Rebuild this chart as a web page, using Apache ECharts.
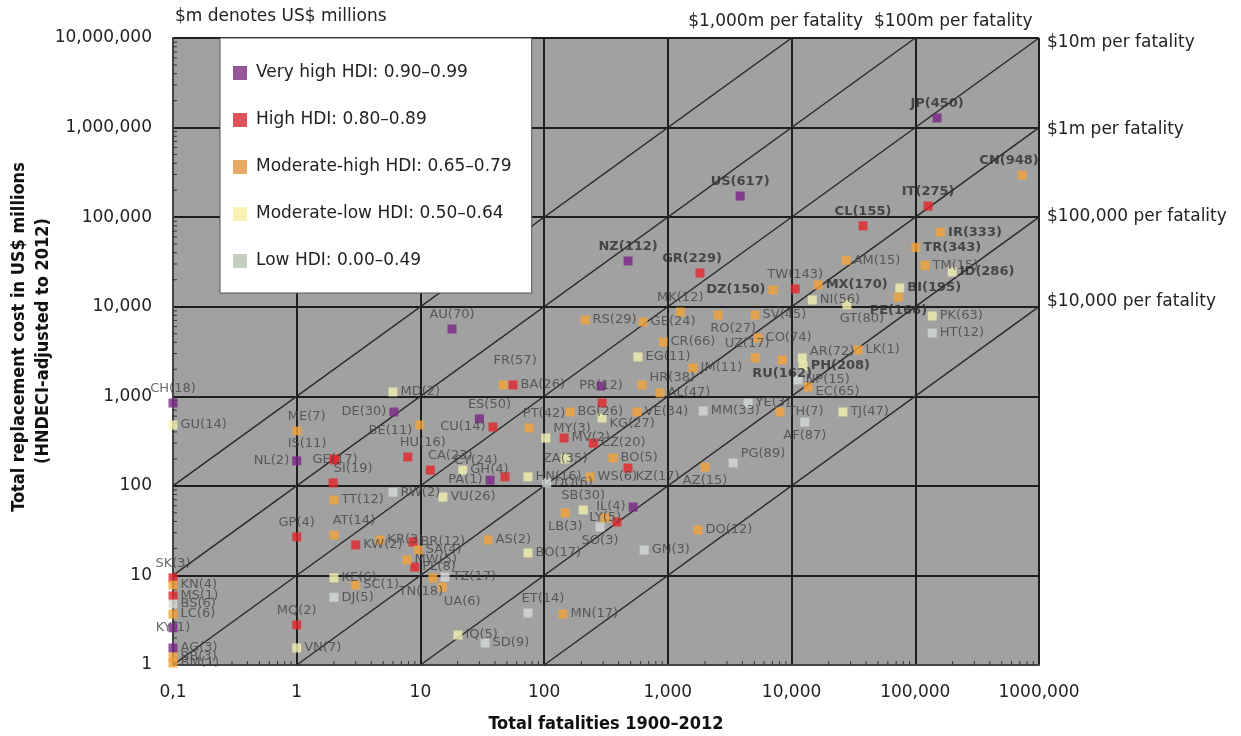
<!DOCTYPE html>
<html><head><meta charset="utf-8">
<script src="https://cdn.jsdelivr.net/npm/echarts@6/dist/echarts.min.js"></script>
<style>html,body{margin:0;background:#fff}#c{width:1241px;height:736px}</style>
</head><body><div id="c"></div>
<script>
// [label, total fatalities 1900-2012, total replacement cost US$ m]
const veryHigh = [
  ['JP(450)',150000,1280000],['US(617)',3840,172000],['NZ(112)',477,32400],['AU(70)',18,5640],
  ['CH(18)',0.1,841],['DE(30)',6.1,668],['NL(2)',1,190],['PA(1)',36.6,116],['IL(4)',524,58],
  ['KY(1)',0.1,2.6],['AG(3)',0.1,1.55],['ES(50)',30,560],['PR(12)',288,1300]
];
const high = [
  ['IT(275)',127000,133000],['CL(155)',37800,80000],['GR(229)',1820,23800],['TW(143)',10700,15800],
  ['BA(26)',56,1337],['CU(14)',38.6,454],['HU(16)',7.9,210],['GE(17)',2.04,194],['IS(11)',2,200],['SI(19)',1.97,108],
  ['GP(4)',1,26.9],['KW(2)',3,21.9],['MQ(2)',1,2.8],['MV(2)',145,342],['KZ(17)',476,158],
  ['CY(24)',48.3,126],['CA(23)',12,150],['LV(5)',388,39.5],['',294,841],['MS(1)',0.1,5.9],
  ['BR(12)',8.7,23.6],['PL(8)',9,12.4],['SK(3)',0.1,9.4],['CZ(20)',250,300]
];
const moderateHigh = [
  ['CN(948)',730000,295000],['IR(333)',160000,68000],['TR(343)',101000,46000],['AM(15)',27600,33000],
  ['TM(15)',120000,29000],['DZ(150)',7080,15400],['MX(170)',16400,17500],['PE(166)',73000,12800],
  ['SV(45)',5070,8080],['RO(27)',2550,8080],['MK(12)',1260,8730],['GE(24)',631,6760],['RS(29)',214,7110],
  ['CR(66)',914,4040],['CO(74)',5360,4480],['LK(1)',34500,3290],['UZ(17)',5070,2680],['JM(11)',1600,2070],
  ['RU(162)',8380,2540],['EC(65)',13600,1270],['TH(7)',8070,668],['VE(34)',564,668],['HR(38)',618,1337],
  ['AL(47)',865,1088],['FR(57)',46.6,1337],['PT(42)',75.5,443],['BG(26)',162,668],['ME(7)',1,410],
  ['BE(11)',9.9,478],['TT(12)',2,69.5],['AT(14)',2,28.3],['SC(1)',3,7.8],['BO(5)',360,205],
  ['AZ(15)',2000,162],['LB(3)',148,49.8],['LY(5)',311,43.8],['DO(12)',1750,32.2],['AS(2)',35.2,24.9],
  ['TN(18)',12.6,9.4],['UA(6)',15,7.4],['MN(17)',142,3.7],['KN(4)',0.1,7.8],['LC(6)',0.1,3.7],
  ['BB(3)',0.1,1.23],['BM(1)',0.1,1.05],['KR(3)',4.7,24.9],['SA(4)',9.6,19.2],['MW(5)',7.8,14.9],
  ['WS(6)',235,126]
];
const moderateLow = [
  ['ID(286)',199000,24400],['BI(195)',75000,16200],['NI(56)',14700,11900],['GT(80)',28000,10500],
  ['PK(63)',137000,7880],['EG(11)',574,2750],['AR(72)',12200,2680],['PH(208)',12400,2180],
  ['TJ(47)',26000,668],['KG(27)',294,572],['MY(3)',103,342],['HN(16)',74,126],['SB(30)',207,53.8],
  ['BO(17)',74,17.8],['IQ(5)',20.1,2.16],['VU(26)',15.2,75],['GH(4)',22,150],['MD(2)',6,1117],
  ['GU(14)',0.1,478],['KE(6)',2,9.4],['VN(7)',1,1.55],['ZA(35)',148,200]
];
const low = [
  ['HT(12)',137000,5090],['NP(15)',11300,1520],['AF(87)',12800,516],['MM(33)',1930,685],
  ['PG(89)',3370,180],['YE(3)',4450,841],['DO(6)',105,108],['SO(3)',283,34.7],['GN(3)',643,19.2],
  ['TZ(17)',15.8,9.6],['ET(14)',74,3.8],['SD(9)',33.3,1.76],['RW(2)',6,85],['DJ(5)',2,5.7],['BS(6)',0.1,4.8]
];
const groupNames = ['Very high HDI: 0.90–0.99','High HDI: 0.80–0.89','Moderate-high HDI: 0.65–0.79','Moderate-low HDI: 0.50–0.64','Low HDI: 0.00–0.49'];
// cost per fatality in US$ m (iso lines)
const ratios = [1000,100,10,1,0.1,0.01];
const ratioLabels = ['$1,000m per fatality','$100m per fatality','$10m per fatality','$1m per fatality','$100,000 per fatality','$10,000 per fatality'];
const xTickLabels = ['0,1','1','10','100','1,000','10,000','100,000','1000,000'];
const yTickLabels = ['1','10','100','1,000','10,000','100,000','1,000,000','10,000,000'];
const minorMultipliers = [2,3,4,5,6,7,8,9];
const X_MIN = 0.1, X_MAX = 1e6, Y_MIN = 1, Y_MAX = 1e7;

// ---- styling (not data) ----
const markerColors = ['#7b2687','#e4252b','#f2a33a','#f3f1ae','#d6dbd6'];
const legendColors = ['#7b2c80','#d6282e','#de9540','#f6f0a2','#b6c3b2'];
const ratioLabelOffsets = [[-16,0],[38,0],[0,5],[0,2],[0,-1],[0,-5]];
// label placement: [position, dx, dy]
const labelPos = {
  'JP(450)':['top'],'CN(948)':['top',-13,0],'US(617)':['top'],'IT(275)':['top'],'CL(155)':['top'],'NZ(112)':['top'],
  'GR(229)':['top',-8,0],'TW(143)':['top'],'MK(12)':['top'],'HR(38)':['right',0,-7],'FR(57)':['top',12,-10],
  'AT(14)':['top',20,0],'GP(4)':['top'],'MQ(2)':['top'],'ME(7)':['top',10,0],'AU(70)':['top'],'CH(18)':['top'],
  'PT(42)':['top',15,0],'ES(50)':['top',10,0],'IS(11)':['left',0,-15],'SK(3)':['top'],'SI(19)':['top',20,0],
  'HU(16)':['top',15,0],'CA(23)':['top',20,0],'SB(30)':['top'],'ET(14)':['top',15,0],'UZ(17)':['top',-8,0],
  'DZ(150)':['left'],'CU(14)':['left'],'BE(11)':['left',0,6],'NL(2)':['left'],'CY(24)':['left',0,-16],
  'PA(1)':['left'],'DE(30)':['left'],'IL(4)':['left'],
  'GT(80)':['bottom',15,0],'RU(162)':['bottom'],'AF(87)':['bottom'],'LB(3)':['bottom'],
  'UA(6)':['bottom',20,0],'PE(166)':['bottom'],'TN(18)':['bottom',-12,0],'AZ(15)':['bottom'],
  'SO(3)':['bottom'],'RO(27)':['bottom',15,0],
  'EC(65)':['right',0,5],'KG(27)':['right',0,6],'MY(3)':['right',0,-9],'KZ(17)':['right',0,9],
  'PG(89)':['right',0,-9],'AR(72)':['right',0,-6],
  'GE(17)':['inside'],'PR(12)':['inside'],'ZA(35)':['inside'],'LY(5)':['inside'],'KY(1)':['inside'],'LV(5)':['none']
};
const boldLabels = ['JP(450)','CN(948)','US(617)','IT(275)','CL(155)','NZ(112)','GR(229)','DZ(150)','MX(170)','BI(195)','PE(166)','RU(162)','PH(208)','IR(333)','TR(343)','ID(286)'];

function itemLabel(name) {
  const p = labelPos[name] || ['right'];
  if (p[0] === 'none' || name === '') return { show: false };
  const l = { position: p[0], offset: [p[1] || 0, p[2] || 0] };
  if (boldLabels.includes(name)) { l.fontWeight = 'bold'; l.color = '#2e2e2e'; }
  return l;
}

const groups = [veryHigh, high, moderateHigh, moderateLow, low];
const scatterSeries = groups.map((g, i) => ({
  name: groupNames[i], type: 'scatter', symbol: 'rect', symbolSize: 9, z: 5,
  itemStyle: { color: markerColors[i] },
  label: { show: true, formatter: '{b}', position: 'right', distance: 3, fontFamily: 'DejaVu Sans', fontSize: 13, color: '#454545' },
  data: g.map(d => ({ name: d[0], value: [d[1], d[2]], label: itemLabel(d[0]) }))
}));

const lineSeries = ratios.map((r, i) => {
  const x0 = Math.max(X_MIN, Y_MIN / r), x1 = Math.min(X_MAX, Y_MAX / r);
  const atTop = r * X_MAX > Y_MAX;
  return {
    type: 'line', silent: true, symbol: 'none', z: 2,
    lineStyle: { color: '#2a2a2a', width: 1.5 },
    data: [[x0, r * x0], [x1, r * x1]],
    markPoint: {
      symbol: 'circle', symbolSize: 0, silent: true,
      data: [{
        coord: [x1, r * x1],
        label: {
          show: true, formatter: ratioLabels[i], fontFamily: 'DejaVu Sans', fontSize: 17, color: '#222',
          position: atTop ? 'top' : 'right', distance: 8, offset: ratioLabelOffsets[i]
        }
      }]
    }
  };
});

// minor log ticks along the bottom and left edges
const xMinor = [], yMinor = [];
for (let e = -1; e < 6; e++) minorMultipliers.forEach(m => xMinor.push([m * Math.pow(10, e), Y_MIN]));
for (let e = 0; e < 7; e++) minorMultipliers.forEach(m => yMinor.push([X_MIN, m * Math.pow(10, e)]));
const tickStyle = { stroke: '#333', lineWidth: 1 };
const minorSeries = [
  { type: 'custom', silent: true, z: 3, data: xMinor, renderItem: (p, api) => {
      const c = api.coord([api.value(0), api.value(1)]);
      return { type: 'line', shape: { x1: c[0], y1: c[1], x2: c[0], y2: c[1] - 4 }, style: tickStyle };
  } },
  { type: 'custom', silent: true, z: 3, data: yMinor, renderItem: (p, api) => {
      const c = api.coord([api.value(0), api.value(1)]);
      return { type: 'line', shape: { x1: c[0], y1: c[1], x2: c[0] + 4, y2: c[1] }, style: tickStyle };
  } }
];

const titleFont = { fontFamily: 'DejaVu Sans Condensed, DejaVu Sans', fontWeight: 'bold', fontSize: 18, fill: '#111', align: 'center', verticalAlign: 'middle' };

const chart = echarts.init(document.getElementById('c'));
chart.setOption({
  animation: false,
  backgroundColor: '#fff',
  grid: { left: 173, top: 38, width: 866, height: 627, outerBoundsMode: 'none', containLabel: false,
    show: true, backgroundColor: '#a1a1a1', borderColor: '#777', borderWidth: 1 },
  legend: {
    orient: 'vertical', left: 220, top: 38, backgroundColor: '#fff', borderColor: '#555', borderWidth: 1,
    padding: [25, 20, 22, 13], itemGap: 27, itemWidth: 14, itemHeight: 14, icon: 'rect',
    textStyle: { fontFamily: 'DejaVu Sans', fontSize: 17, color: '#222', lineHeight: 20, padding: [0, 0, 0, 4] },
    data: groupNames.map((n, i) => ({ name: n, itemStyle: { color: legendColors[i] } }))
  },
  xAxis: {
    type: 'log', logBase: 10, min: X_MIN, max: X_MAX, interval: 1,
    name: 'Total fatalities 1900–2012', nameLocation: 'middle', nameGap: 50,
    nameTextStyle: { fontFamily: 'DejaVu Sans Condensed, DejaVu Sans', fontWeight: 'bold', fontSize: 18, color: '#111' },
    axisLine: { show: true, lineStyle: { color: '#444', width: 2 } },
    axisTick: { show: false },
    axisLabel: { fontFamily: 'DejaVu Sans', fontSize: 17, color: '#222', margin: 19,
      formatter: v => xTickLabels[Math.round(Math.log10(v)) + 1] },
    splitLine: { show: true, lineStyle: { color: '#1e1e1e', width: 2 } }
  },
  yAxis: {
    type: 'log', logBase: 10, min: Y_MIN, max: Y_MAX, interval: 1,
    axisLine: { show: true, lineStyle: { color: '#444', width: 2 } },
    axisTick: { show: false },
    axisLabel: { fontFamily: 'DejaVu Sans', fontSize: 17, color: '#222', margin: 21,
      formatter: v => yTickLabels[Math.round(Math.log10(v))] },
    splitLine: { show: true, lineStyle: { color: '#1e1e1e', width: 2 } }
  },
  graphic: [
    { type: 'text', left: 175, top: 8, style: { text: '$m denotes US$ millions', fontFamily: 'DejaVu Sans', fontSize: 17, fill: '#222' } },
    { type: 'text', x: 19, y: 337, rotation: Math.PI / 2, style: Object.assign({ text: 'Total replacement cost in US$ millions' }, titleFont) },
    { type: 'text', x: 43, y: 341, rotation: Math.PI / 2, style: Object.assign({ text: '(HNDECI-adjusted to 2012)' }, titleFont) }
  ],
  series: [...lineSeries, ...minorSeries, ...scatterSeries]
});
</script></body></html>
